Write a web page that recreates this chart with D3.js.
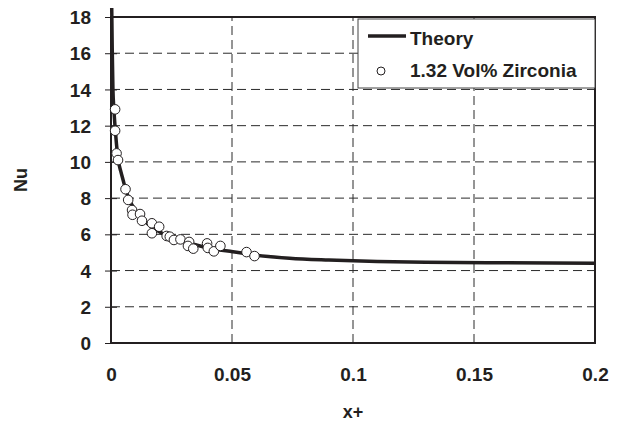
<!DOCTYPE html>
<html>
<head>
<meta charset="utf-8">
<script src="https://cdnjs.cloudflare.com/ajax/libs/d3/7.8.5/d3.min.js"></script>
<style>
body { margin: 0; background: #fff; }
text { font-family: "Liberation Sans", Arial, sans-serif; font-weight: bold; fill: #231f20; }
</style>
</head>
<body>
<div id="chart"></div>
<script>
// theory curve (x+, Nu)
var theoryX = [0.0003, 0.0005, 0.0008, 0.0012, 0.002, 0.003, 0.004, 0.005, 0.006, 0.008, 0.0092, 0.011, 0.0133, 0.016, 0.0188, 0.022, 0.0257, 0.03, 0.0353, 0.042, 0.0504, 0.06, 0.0738, 0.09, 0.11, 0.13, 0.16, 0.2]
var theoryNu = [18.5, 16.3, 14.0, 12.9, 11.4, 10.1, 9.5, 9.0, 8.5, 7.8, 7.5, 7.1, 6.8, 6.5, 6.24, 6.0, 5.8, 5.6, 5.41, 5.2, 5.04, 4.85, 4.68, 4.58, 4.5, 4.46, 4.43, 4.41]

// measured points, 1.32 Vol% Zirconia
var expX = [0.0017, 0.0017, 0.0023, 0.0029, 0.006, 0.0071, 0.0087, 0.0089, 0.012, 0.0128, 0.0169, 0.0169, 0.0199, 0.023, 0.0243, 0.026, 0.0287, 0.0323, 0.0318, 0.034, 0.0397, 0.04, 0.0425, 0.0452, 0.056, 0.0593]
var expNu = [12.9, 11.72, 10.47, 10.1, 8.49, 7.9, 7.34, 7.08, 7.12, 6.75, 6.61, 6.06, 6.42, 5.91, 5.87, 5.69, 5.72, 5.58, 5.36, 5.21, 5.5, 5.25, 5.06, 5.36, 5.02, 4.8]

var xTicks = [0, 0.05, 0.1, 0.15, 0.2]
var xTickLabels = ["0", "0.05", "0.1", "0.15", "0.2"]
var yTicks = [0, 2, 4, 6, 8, 10, 12, 14, 16, 18]

var legendLabels = ["Theory", "1.32 Vol% Zirconia"]

var w = 626, h = 421
var ink = "#231f20"

var svg = d3.select("#chart")
	.append("svg")
	.attr("width", w)
	.attr("height", h)

// plot area
var x = d3.scaleLinear().domain([0, 0.2]).range([111, 595])
var y = d3.scaleLinear().domain([0, 18]).range([343, 17])

// dashed grid
svg.append("g")
	.selectAll("line")
	.data(yTicks.slice(1, -1))
	.join("line")
	.attr("x1", x(0)).attr("x2", x(0.2))
	.attr("y1", d => y(d)).attr("y2", d => y(d))
	.attr("stroke", "#2a2a2a").attr("stroke-width", 1)
	.attr("stroke-dasharray", "9,5")

svg.append("g")
	.selectAll("line")
	.data(xTicks.slice(1, -1))
	.join("line")
	.attr("x1", d => x(d)).attr("x2", d => x(d))
	.attr("y1", y(0)).attr("y2", y(18))
	.attr("stroke", "#2a2a2a").attr("stroke-width", 1)
	.attr("stroke-dasharray", "9,5")

// y axis ticks + labels
var yAxis = d3.axisLeft(y)
	.tickValues(yTicks)
	.tickSize(6)
	.tickPadding(14)
	.tickFormat(d3.format("d"))

var yG = svg.append("g")
	.attr("transform", "translate(" + x(0) + ",0)")
	.call(yAxis)
yG.select(".domain").remove()
yG.selectAll(".tick line").attr("x2", 6).attr("x1", -6).attr("stroke", ink)
yG.selectAll(".tick text")
	.attr("font-size", 19)
	.style("font-family", "'Liberation Sans', Arial, sans-serif")
	.style("font-weight", "bold")
	.attr("fill", ink)
	.attr("dy", "0.35em")

// x axis labels
var xAxis = d3.axisBottom(x)
	.tickValues(xTicks)
	.tickSize(0)
	.tickPadding(25)
	.tickFormat((d, i) => xTickLabels[i])

var xG = svg.append("g")
	.attr("transform", "translate(0," + y(0) + ")")
	.call(xAxis)
xG.select(".domain").remove()
xG.selectAll(".tick text")
	.attr("font-size", 19)
	.style("font-family", "'Liberation Sans', Arial, sans-serif")
	.style("font-weight", "bold")
	.attr("fill", ink)

// frame
svg.append("rect")
	.attr("x", x(0)).attr("y", y(18))
	.attr("width", x(0.2) - x(0)).attr("height", y(0) - y(18))
	.attr("fill", "none")
	.attr("stroke", ink)
	.attr("stroke-width", 2)

// theory line
var line = d3.line()
	.x((d, i) => x(theoryX[i]))
	.y(d => y(d))
	.curve(d3.curveMonotoneX)

svg.append("path")
	.attr("d", line(theoryNu))
	.attr("fill", "none")
	.attr("stroke", ink)
	.attr("stroke-width", 3.5)

// data points
svg.append("g")
	.selectAll("circle")
	.data(expNu)
	.join("circle")
	.attr("cx", (d, i) => x(expX[i]))
	.attr("cy", d => y(d))
	.attr("r", 4.8)
	.attr("fill", "#fff")
	.attr("stroke", ink)
	.attr("stroke-width", 1)

// legend
var lg = svg.append("g")
lg.append("rect")
	.attr("x", 358).attr("y", 19)
	.attr("width", 237).attr("height", 69)
	.attr("fill", "#fff")
	.attr("stroke", "#444")
	.attr("stroke-width", 1)
lg.append("line")
	.attr("x1", 368).attr("x2", 406)
	.attr("y1", 36).attr("y2", 36)
	.attr("stroke", ink).attr("stroke-width", 3.5)
lg.append("circle")
	.attr("cx", 381).attr("cy", 71).attr("r", 4)
	.attr("fill", "#fff").attr("stroke", ink).attr("stroke-width", 1)
lg.selectAll("text")
	.data(legendLabels)
	.join("text")
	.attr("x", 410)
	.attr("y", (d, i) => i ? 77 : 45)
	.attr("font-size", 19)
	.text(d => d)

// axis titles
svg.append("text")
	.attr("x", (x(0) + x(0.2)) / 2)
	.attr("y", 418)
	.attr("text-anchor", "middle")
	.attr("font-size", 18)
	.text("x+")

svg.append("text")
	.attr("transform", "translate(27," + (y(0) + y(18)) / 2 + ") rotate(-90)")
	.attr("text-anchor", "middle")
	.attr("font-size", 18)
	.text("Nu")
</script>
</body>
</html>
